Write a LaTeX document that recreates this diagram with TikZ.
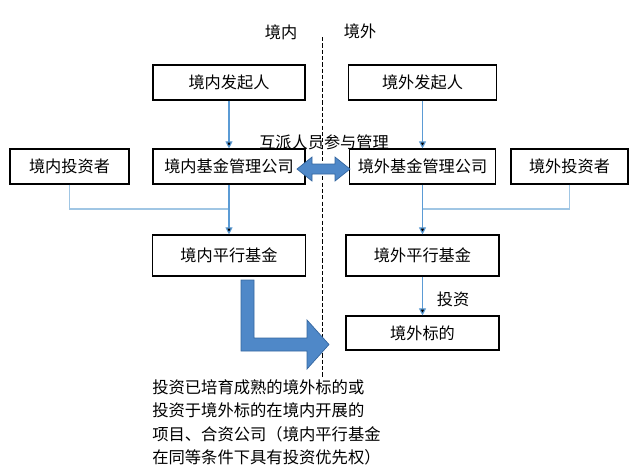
\documentclass[tikz,border=0pt]{standalone}
\usepackage{fontspec}
\setmainfont{Noto Sans CJK SC}
\usetikzlibrary{arrows.meta}

\definecolor{flowblue}{RGB}{91,155,213}
\definecolor{lineblue}{RGB}{160,198,228}
\definecolor{bigblue}{RGB}{79,136,200}
\definecolor{bigedge}{RGB}{52,102,160}

\begin{document}
\begin{tikzpicture}[x=0.025cm,y=-0.025cm,
    box_node/.style={draw,line width=0.8pt,minimum height=0.875cm,inner sep=1pt,font=\fontsize{11.5}{14}\selectfont},
    lbl_node/.style={inner sep=0pt,font=\fontsize{11.5}{14}\selectfont},
    flow_arrow/.style={draw=flowblue,line width=0.8pt,-{Triangle[length=5pt,width=5pt]}},
    inv_line/.style={draw=lineblue,line width=0.8pt}]

    \useasboundingbox (0,0) rectangle (640,475);

    \node[lbl_node] (lblIn) at (281,32) {境内};
    \node[lbl_node] (lblOut) at (360,31) {境外};
    \coordinate (borderTop) at (322,37);
    \coordinate (borderBot) at (322,378);
    \draw[line width=0.6pt,dash pattern=on 3pt off 1.5pt] (borderTop) -- (borderBot);

    \node[box_node,minimum width=3.8cm] (indSponsor) at (229,82.5) {境内发起人};
    \node[box_node,minimum width=3.7cm] (forSponsor) at (422.5,82.5) {境外发起人};
    \node[box_node,minimum width=2.975cm] (indInvestor) at (69.5,166.5) {境内投资者};
    \node[box_node,minimum width=3.8cm] (indManager) at (229,166.5) {境内基金管理公司};
    \node[box_node,minimum width=3.65cm] (forManager) at (422.5,166.5) {境外基金管理公司};
    \node[box_node,minimum width=2.925cm] (forInvestor) at (569.5,166.5) {境外投资者};
    \node[box_node,minimum width=3.825cm,minimum height=1.025cm] (indFund) at (229,255.5) {境内平行基金};
    \node[box_node,minimum width=3.825cm,minimum height=1.025cm] (forFund) at (422.5,255.5) {境外平行基金};
    \node[box_node,minimum width=3.825cm,minimum height=0.85cm] (forTarget) at (422.5,333) {境外标的};

    \node[lbl_node] (lblSwap) at (324,142) {互派人员参与管理};
    \node[lbl_node] (lblInvest) at (453,299) {投资};

    \coordinate (indJoin) at (229,209);
    \coordinate (forJoin) at (422.5,209);
    \draw[inv_line] (indInvestor.south) |- (indJoin);
    \draw[inv_line] (forInvestor.south) |- (forJoin);

    \path[flow_arrow]
    (indSponsor) edge (indManager)
    (forSponsor) edge (forManager)
    (indManager) edge (indFund)
    (forManager) edge (forFund)
    (forFund) edge (forTarget);

    % double arrow between the managers
    \fill[bigblue,draw=bigedge,line width=0.5pt]
    (297,169) -- (312,157) -- (312,164) -- (335,164) -- (335,157) -- (350,169)
    -- (335,181) -- (335,174) -- (312,174) -- (312,181) -- cycle;

    % bent arrow
    \fill[bigblue,draw=bigedge,line width=0.5pt]
    (241,280) -- (254,280) -- (254,338) -- (307,338) -- (307,320) -- (329,344.5)
    -- (307,369) -- (307,351) -- (241,351) -- cycle;

    \node[lbl_node,anchor=north west,align=left,font=\fontsize{11.6}{16.7}\selectfont] (note) at (152,379)
    {投资已培育成熟的境外标的或\\投资于境外标的在境内开展的\\项目、合资公司（境内平行基金\\在同等条件下具有投资优先权）};
\end{tikzpicture}
\end{document}
